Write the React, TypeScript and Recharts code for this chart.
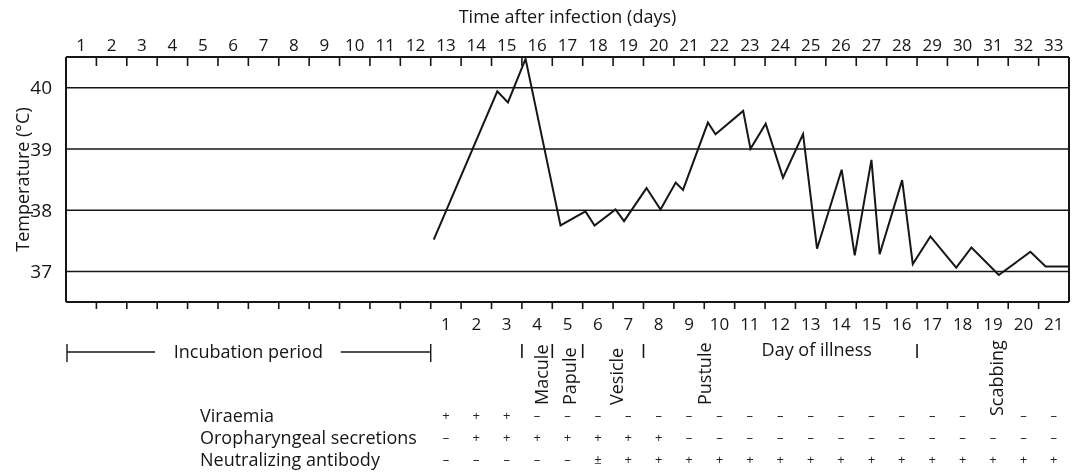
import React from 'react';
import { ComposedChart, Line, XAxis, YAxis, CartesianGrid, ReferenceLine, Label } from 'recharts';

const FONT = '"Open Sans", Lato, "DejaVu Sans", sans-serif';
const INK = '#161616';

// ---- data ----
const infectionDays = [1, 2, 3, 4, 5, 6, 7, 8, 9, 10, 11, 12, 13, 14, 15, 16, 17, 18, 19, 20, 21, 22, 23, 24, 25, 26, 27, 28, 29, 30, 31, 32, 33];
const illnessDays = [1, 2, 3, 4, 5, 6, 7, 8, 9, 10, 11, 12, 13, 14, 15, 16, 17, 18, 19, 20, 21];
const temperatureTicks = [37, 38, 39, 40];

const readingDay = [12.1, 14.19, 14.54, 15.12, 16.27, 17.09, 17.39, 18.08, 18.36, 19.1, 19.56, 20.06, 20.3, 21.12, 21.37, 22.28, 22.52, 23.02, 23.59, 24.25, 24.71, 25.52, 25.95, 26.5, 26.77, 27.51, 27.86, 28.44, 29.29, 29.79, 30.69, 31.73, 32.23, 33];
const temperature = [37.52, 39.94, 39.76, 40.47, 37.75, 37.98, 37.75, 38.01, 37.82, 38.36, 38.01, 38.45, 38.33, 39.43, 39.24, 39.62, 39.0, 39.41, 38.53, 39.24, 37.37, 38.66, 37.26, 38.82, 37.28, 38.49, 37.12, 37.57, 37.06, 37.39, 36.94, 37.32, 37.08, 37.08];

const tableRows = ['Viraemia', 'Oropharyngeal secretions', 'Neutralizing antibody'];
const viraemia = ['+', '+', '+', '–', '–', '–', '–', '–', '–', '–', '–', '–', '–', '–', '–', '–', '–', '–', '', '–', '–'];
const oropharyngeal = ['–', '+', '+', '+', '+', '+', '+', '+', '–', '–', '–', '–', '–', '–', '–', '–', '–', '–', '–', '–', '–'];
const antibody = ['–', '–', '–', '–', '–', '±', '+', '+', '+', '+', '+', '+', '+', '+', '+', '+', '+', '+', '+', '+', '+'];
const tableValues = [viraemia, oropharyngeal, antibody];

const stageNames = ['Macule', 'Papule', 'Vesicle', 'Pustule', 'Scabbing'];
const stageDay = [15.63, 16.55, 18.1, 21, 30.6];
const stageBoundaryDays = [15, 16, 17, 19, 28];

const incubationPeriod = [0, 12];
const incubationLabelDay = 6;
const illnessLabelDay = 24.7;
const illnessOffset = 11.5; // illness day d is centred on infection day d + 12

// ---- derived ----
const data = readingDay.map((d, i) => ({ day: d, temp: temperature[i] }));
const topLabelPos = infectionDays.map((d) => d - 0.5);
const tickMarkDays = infectionDays.slice(0, infectionDays.length - 1);
const topTicks = Array.from(new Set([...tickMarkDays, ...topLabelPos])).sort((a, b) => a - b);
const illnessPos = illnessDays.map((d) => d + illnessOffset);
const bottomTicks = Array.from(
  new Set([
    ...incubationPeriod,
    incubationLabelDay,
    illnessLabelDay,
    ...tickMarkDays,
    ...illnessPos,
    ...stageDay,
  ])
).sort((a, b) => a - b);

const txt = { fontFamily: FONT, fill: INK };

function TopTick(props: any) {
  const { x, y, payload } = props;
  const v = payload.value as number;
  const li = topLabelPos.indexOf(v);
  return (
    <g>
      {tickMarkDays.includes(v) && <line x1={x} x2={x} y1={y} y2={y + 9} stroke={INK} strokeWidth={1.6} />}
      {li >= 0 && (
        <text x={x} y={y - 13} textAnchor="middle" dominantBaseline="central" fontSize={17} {...txt}>
          {infectionDays[li]}
        </text>
      )}
    </g>
  );
}

const ROW_DY = [113, 135, 157];

function BottomTick(props: any) {
  const { x, y, payload } = props;
  const v = payload.value as number;
  const out: any[] = [];
  if (tickMarkDays.includes(v)) {
    out.push(<line key="tm" x1={x} x2={x} y1={y} y2={y + 7} stroke={INK} strokeWidth={1.6} />);
  }
  const ii = illnessPos.indexOf(v);
  if (ii >= 0) {
    out.push(
      <text key="il" x={x} y={y + 21} textAnchor="middle" dominantBaseline="central" fontSize={17} {...txt}>
        {illnessDays[ii]}
      </text>
    );
    tableValues.forEach((row, r) => {
      out.push(
        <text key={'s' + r} x={x} y={y + ROW_DY[r]} textAnchor="middle" dominantBaseline="central" fontSize={13} fontFamily={FONT} fill="#222">
          {row[ii]}
        </text>
      );
    });
  }
  if (stageBoundaryDays.includes(v)) {
    out.push(<line key="sb" x1={x} x2={x} y1={y + 42} y2={y + 56} stroke={INK} strokeWidth={1.6} />);
  }
  const si = stageDay.indexOf(v);
  if (si >= 0) {
    const by = y + (si === stageNames.length - 1 ? 114 : 103);
    out.push(
      <text key="sn" x={x} y={by} transform={`rotate(-90 ${x} ${by})`} textAnchor="start" dominantBaseline="central" fontSize={18} {...txt}>
        {stageNames[si]}
      </text>
    );
  }
  if (v === incubationPeriod[0]) {
    out.push(<line key="lc" x1={x + 1} x2={x + 1} y1={y + 42} y2={y + 60} stroke={INK} strokeWidth={1.4} />);
    out.push(<line key="ll" x1={x + 1} x2={x + 89} y1={y + 50} y2={y + 50} stroke={INK} strokeWidth={1.4} />);
    tableRows.forEach((name, r) => {
      out.push(
        <text key={'r' + r} x={x + 134} y={y + ROW_DY[r]} textAnchor="start" dominantBaseline="central" fontSize={18} {...txt}>
          {name}
        </text>
      );
    });
  }
  if (v === incubationPeriod[1]) {
    out.push(<line key="rc" x1={x} x2={x} y1={y + 42} y2={y + 60} stroke={INK} strokeWidth={1.4} />);
    out.push(<line key="rl" x1={x - 90} x2={x} y1={y + 50} y2={y + 50} stroke={INK} strokeWidth={1.4} />);
  }
  if (v === incubationLabelDay) {
    out.push(
      <text key="inc" x={x} y={y + 49} textAnchor="middle" dominantBaseline="central" fontSize={18} {...txt}>
        Incubation period
      </text>
    );
  }
  if (v === illnessLabelDay) {
    out.push(
      <text key="doi" x={x} y={y + 47} textAnchor="middle" dominantBaseline="central" fontSize={18} {...txt}>
        Day of illness
      </text>
    );
  }
  return <g>{out}</g>;
}

export default function App() {
  return (
    <div style={{ position: 'absolute', left: 0, top: 0, width: 1078, height: 474, background: '#fff', willChange: 'transform' }}>
      <ComposedChart width={1078} height={474} data={data} margin={{ top: 0, right: 9, bottom: 0, left: 0 }}>
        <CartesianGrid xAxisId="bottom" vertical={false} stroke={INK} strokeWidth={1.5} />
        <XAxis
          xAxisId="top"
          orientation="top"
          type="number"
          dataKey="day"
          domain={[0, 33]}
          ticks={topTicks}
          interval={0}
          height={57}
          tickSize={0}
          tickMargin={0}
          tickLine={false}
          axisLine={{ stroke: INK, strokeWidth: 2 }}
          tick={<TopTick />}
        >
          <Label
            content={(p: any) => {
              const vb = p.viewBox || { x: 66, y: 0, width: 1003 };
              return (
                <text x={vb.x + vb.width / 2} y={vb.y + 16} textAnchor="middle" dominantBaseline="central" fontSize={18} {...txt}>
                  Time after infection (days)
                </text>
              );
            }}
          />
        </XAxis>
        <XAxis
          xAxisId="bottom"
          orientation="bottom"
          type="number"
          dataKey="day"
          domain={[0, 33]}
          ticks={bottomTicks}
          interval={0}
          height={172}
          tickSize={0}
          tickMargin={0}
          tickLine={false}
          axisLine={{ stroke: INK, strokeWidth: 2 }}
          tick={<BottomTick />}
        />
        <YAxis
          type="number"
          domain={[36.5, 40.5]}
          ticks={temperatureTicks}
          width={66}
          tickLine={false}
          tickMargin={8}
          axisLine={{ stroke: INK, strokeWidth: 2 }}
          tick={{ fontSize: 19, fill: INK, fontFamily: FONT }}
        >
          <Label
            content={(p: any) => {
              const vb = p.viewBox || { x: 0, y: 57, width: 66, height: 245 };
              const cx = vb.x + 22;
              const cy = vb.y + vb.height / 2;
              return (
                <text x={cx} y={cy} transform={`rotate(-90 ${cx} ${cy})`} textAnchor="middle" dominantBaseline="central" fontSize={18} {...txt}>
                  Temperature (°C)
                </text>
              );
            }}
          />
        </YAxis>
        <ReferenceLine xAxisId="bottom" x={33} stroke={INK} strokeWidth={2} />
        <Line
          xAxisId="bottom"
          type="linear"
          dataKey="temp"
          stroke={INK}
          strokeWidth={2}
          dot={false}
          isAnimationActive={false}
        />
      </ComposedChart>
    </div>
  );
}
